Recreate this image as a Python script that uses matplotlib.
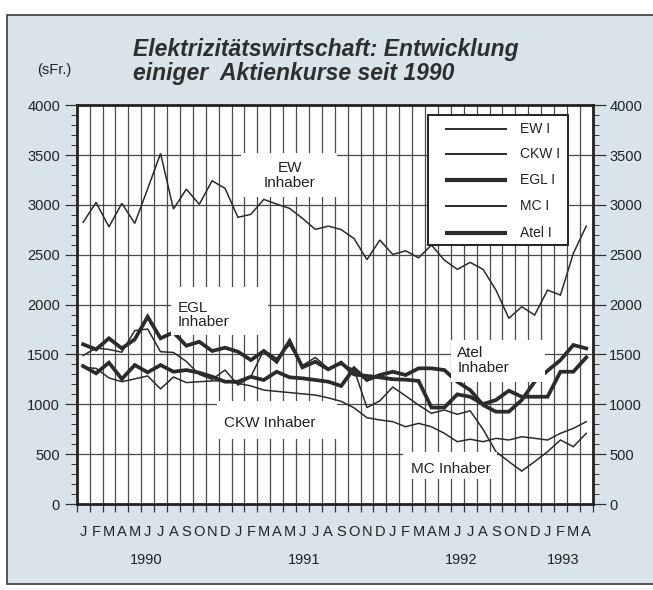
import matplotlib
matplotlib.use("Agg")
import matplotlib.pyplot as plt
from matplotlib.patches import Rectangle
from matplotlib.ticker import MultipleLocator, FixedLocator
import matplotlib.transforms as mtrans
import numpy as np

plt.rcParams['font.family'] = ['Liberation Sans', 'DejaVu Sans']

# ---------------- data ----------------
months = list("JFMAMJJASOND") * 3 + list("JFMA")
years = ["1990", "1991", "1992", "1993"]
year_pos = [4.9, 17.1, 29.3, 37.2]

ew = [2826, 3026, 2781, 3016, 2815, 3162, 3517, 2959, 3159, 3006,
      3243, 3166, 2876, 2906, 3056, 3009, 2966, 2866, 2755, 2788,
      2753, 2663, 2452, 2648, 2504, 2540, 2470, 2598, 2447, 2354,
      2424, 2354, 2146, 1863, 1979, 1896, 2146, 2096, 2514, 2788]
ckw = [1370, 1361, 1265, 1227, 1255, 1285, 1155, 1274, 1218, 1227,
       1235, 1235, 1210, 1185, 1143, 1130, 1118, 1105, 1093, 1065,
       1030, 965, 866, 843, 826, 775, 809, 775, 709, 625,
       650, 625, 659, 642, 675, 659, 642, 709, 759, 826]
egl = [1602, 1551, 1662, 1561, 1652, 1879, 1662, 1722, 1588, 1628,
       1535, 1568, 1528, 1444, 1535, 1428, 1635, 1371, 1428, 1351,
       1418, 1300, 1285, 1270, 1252, 1247, 1235, 968, 968, 1100,
       1076, 1003, 1043, 1137, 1076, 1076, 1076, 1327, 1327, 1471]
mc = [1490, 1565, 1550, 1523, 1740, 1755, 1528, 1520, 1430, 1300,
      1250, 1344, 1194, 1277, 1545, 1461, 1595, 1390, 1470, 1360,
      1400, 1350, 968, 1035, 1173, 1085, 993, 910, 943, 900,
      935, 750, 525, 425, 330, 425, 525, 642, 575, 709]
atel = [1384, 1311, 1418, 1254, 1394, 1321, 1394, 1327, 1344, 1317,
        1277, 1227, 1227, 1277, 1244, 1327, 1271, 1261, 1244, 1227,
        1184, 1361, 1244, 1294, 1327, 1294, 1361, 1361, 1344, 1227,
        1143, 993, 926, 926, 1043, 1227, 1337, 1444, 1595, 1561]

series_names = ["EW I", "CKW I", "EGL I", "MC I", "Atel I"]
series = [ew, ckw, egl, mc, atel]
widths = [1.1, 1.1, 2.7, 1.1, 2.7]

# label annotations (text, x month, y value)
ann_texts = ["EW\nInhaber", "EGL\nInhaber", "CKW Inhaber", "MC Inhaber", "Atel\nInhaber"]

# ---------------- figure ----------------
W, H = 653, 590
fig = plt.figure(figsize=(W / 100, H / 100), dpi=100)
fig.patch.set_facecolor('white')
fig.add_artist(Rectangle((7 / W, 1 - 584 / H), (W + 20) / W, (584 - 15) / H,
                         transform=fig.transFigure, facecolor='#d9e4ea',
                         edgecolor='#3a3a3a', lw=1.2, zorder=0))

ax = fig.add_axes([76.7 / W, 1 - 504 / H, 516 / W, 398.7 / H])
ax.set_facecolor('white')
ax.set_xlim(-0.5, 39.5)
ax.set_ylim(0, 4000)

LC = '#2b2b2b'
GC = '#4a4a4a'
x = np.arange(len(months))
for s, lw in zip(series, widths):
    ax.plot(x, s, color=LC, lw=lw, solid_joinstyle='miter', zorder=3)

# axes ticks / grid
ax.set_xticks(x)
ax.set_xticklabels(months, fontsize=10.5, color='#222')
ax.xaxis.set_minor_locator(FixedLocator(np.arange(-0.5, 40, 1)))
ax.tick_params(axis='x', which='major', length=0, pad=15)
ax.tick_params(axis='x', which='minor', length=6, width=0.9, color='#333', direction='out')
ax.grid(which='minor', axis='x', color=GC, lw=0.9, zorder=1)

ax.yaxis.set_major_locator(MultipleLocator(500))
ax.yaxis.set_minor_locator(MultipleLocator(100))
ax.tick_params(axis='y', which='both', left=True, right=True,
               labelleft=True, labelright=True, direction='out', color='#333')
ax.tick_params(axis='y', which='major', length=9, width=0.9, pad=3, labelsize=10.5, labelcolor='#222')
ax.tick_params(axis='y', which='minor', length=4, width=0.7)
ax.grid(which='major', axis='y', color=GC, lw=0.9, zorder=1)
ax.set_axisbelow(True)
for sp in ax.spines.values():
    sp.set_linewidth(2.0)
    sp.set_color('#222')
    sp.set_zorder(6)

# year labels
trans = mtrans.blended_transform_factory(ax.transData, ax.transAxes)
for yl, xp in zip(years, year_pos):
    ax.text(xp, -0.14, yl, transform=trans, ha='center', va='center',
            fontsize=10.5, color='#222')

# white label boxes (cover grid and lines like the original)
boxes = [(12.2, 3079, 7.5, 441), (6.8, 1695, 7.5, 482), (10.4, 650, 9.3, 380),
         (24.8, 250, 7.3, 270), (28.5, 1224, 7.3, 421)]
for bx, by, bw, bh in boxes:
    ax.add_patch(Rectangle((bx, by), bw, bh, facecolor='white', edgecolor='none', zorder=4))

ann_pos = [(16.0, 3295, 'center'), (7.35, 1896, 'left'), (10.9, 812, 'left'),
           (25.4, 351, 'left'), (29.0, 1439, 'left')]
for t, (px, py, ha) in zip(ann_texts, ann_pos):
    ax.text(px, py, t, ha=ha, va='center', ma=ha, fontsize=11, color='#222',
            linespacing=1.05, zorder=5)

# legend (manual, in axes coordinates)
ax.add_patch(Rectangle((0.681, 0.6496), 0.271, 0.326, transform=ax.transAxes,
                       facecolor='white', edgecolor='#222', lw=1.4, zorder=4))
rows = [0.9406, 0.8771, 0.8126, 0.7474, 0.6804]
for name, lw, ry in zip(series_names, widths, rows):
    ax.plot([0.7138, 0.8339], [ry, ry], transform=ax.transAxes, color=LC,
            lw=lw + 0.3, solid_capstyle='butt', zorder=5)
    ax.text(0.859, ry, name, transform=ax.transAxes, ha='left', va='center',
            fontsize=10, color='#222', zorder=5)

# titles
fig.text(133 / W, 1 - 56 / H, "Elektrizitätswirtschaft: Entwicklung", fontsize=16.5,
         fontweight='bold', fontstyle='italic', color='#2e2e2e', va='baseline')
fig.text(133 / W, 1 - 80 / H, "einiger  Aktienkurse seit 1990", fontsize=16.5,
         fontweight='bold', fontstyle='italic', color='#2e2e2e', va='baseline')
fig.text(37 / W, 1 - 70 / H, "(sFr.)", fontsize=10.5, color='#222', va='center')

fig.savefig("out.png", dpi=100)
